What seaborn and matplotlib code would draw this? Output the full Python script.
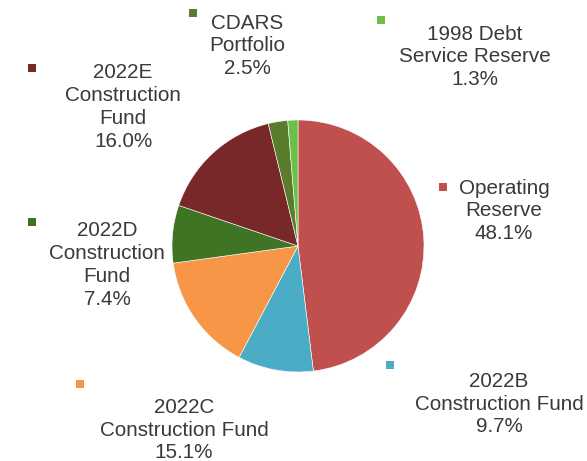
import matplotlib
matplotlib.use("Agg")
import matplotlib.pyplot as plt
import seaborn as sns

labels = ["Operating\nReserve", "2022B\nConstruction Fund", "2022C\nConstruction Fund",
          "2022D\nConstruction\nFund", "2022E\nConstruction\nFund", "CDARS\nPortfolio",
          "1998 Debt\nService Reserve"]
values = [48.1, 9.7, 15.1, 7.4, 16.0, 2.5, 1.3]
colors = ["#c0504d", "#4bacc6", "#f79646", "#3f7424", "#782828", "#5b7c2c", "#6cc04a"]

# label layout (pixel coords, y from top): text center, marker position
text_pos = [(504, 211), (499, 404), (184, 430), (107, 265), (123, 107), (247, 46), (475, 57)]
marker_pos = [(443, 187), (390, 365), (80, 384), (32, 222), (32, 68), (193, 13), (381, 20)]

sns.set_theme(style="white")
plt.rcParams['font.family'] = ['Liberation Sans', 'DejaVu Sans']

W, H = 587, 461
fig = plt.figure(figsize=(W / 100, H / 100), dpi=100)
ax = fig.add_axes([0, 0, 1, 1])

ax.pie(values, colors=colors, startangle=90, counterclock=False,
       center=(298, H - 246), radius=126, frame=True,
       wedgeprops=dict(linewidth=0.4, edgecolor="white"))
ax.set_xlim(0, W)
ax.set_ylim(0, H)
ax.set_aspect('equal')
ax.axis('off')

for lab, v, (tx, ty), (mx, my), c in zip(labels, values, text_pos, marker_pos, colors):
    ax.text(tx, H - ty, f"{lab}\n{v:.1f}%", ha="center", va="center",
            fontsize=14.9, color="#3a3a3a", linespacing=1.26)
    ax.scatter([mx], [H - my], marker="s", s=36, color=c, linewidths=0)

fig.savefig("out.png", dpi=100)
